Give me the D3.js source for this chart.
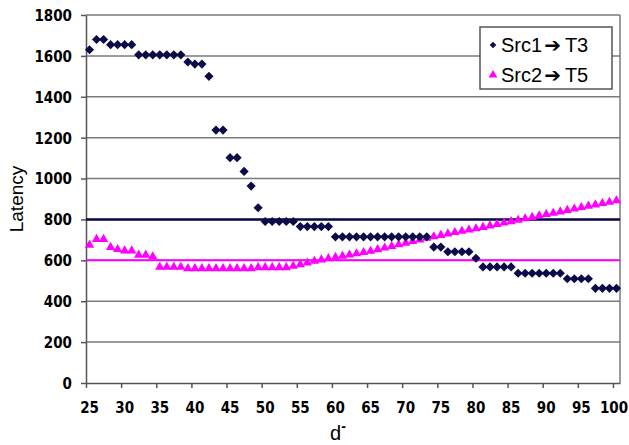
<!DOCTYPE html>
<html>
<head>
<meta charset="utf-8">
<script src="https://cdn.jsdelivr.net/npm/d3@7"></script>
<style>
   body { margin: 0; background: #fff; }
   text { font-family: "Liberation Sans", Arial, sans-serif; }
</style>
</head>
<body>
<div id="mainChart"></div>
<script>

// x categories (d-) from 25 to 100
let dValues = d3.range(25, 101)

// Src1 -> T3 latency (diamonds)
let src1T3 = [
   1630, 1680, 1680, 1655, 1655, 1655, 1655, 1605, 1605, 1605,
   1605, 1605, 1605, 1605, 1570, 1560, 1560, 1500, 1237, 1237,
   1102, 1102, 1035, 963, 857, 790, 790, 790, 790, 790,
   765, 765, 765, 765, 765, 715, 715, 715, 715, 715,
   715, 715, 715, 715, 715, 715, 715, 715, 715, 665,
   665, 642, 642, 642, 642, 610, 568, 568, 568, 568,
   568, 537, 537, 537, 537, 537, 537, 537, 510, 510,
   510, 510, 463, 463, 463, 463
]

// Src2 -> T5 latency (triangles)
let src2T5 = [
   675, 703, 703, 664, 654, 647, 647, 626, 626, 618,
   567, 567, 567, 567, 560, 560, 560, 560, 560, 560,
   560, 560, 560, 560, 565, 565, 565, 565, 565, 572,
   580, 588, 596, 603, 609, 615, 621, 627, 633, 639,
   645, 653, 661, 669, 677, 685, 693, 701, 709, 716,
   723, 730, 737, 743, 749, 755, 762, 769, 776, 783,
   790, 797, 804, 811, 818, 825, 831, 838, 845, 852,
   859, 866, 872, 879, 885, 892
]

// horizontal reference lines
let thresholds = [
   { value: 800, color: "#0b0b4a", width: 2.6 },
   { value: 600, color: "#ff00ff", width: 2 }
]

let yTicks = d3.range(0, 1801, 200)
let xTickLabels = d3.range(25, 101, 5)

let tickFont = "'DejaVu Sans Condensed', 'Liberation Sans Narrow', sans-serif"

let margin = { top: 15, right: 9, bottom: 62, left: 86 }
let width = 629 - margin.left - margin.right
let height = 445 - margin.top - margin.bottom

let svg = d3.select("#mainChart").append("svg")
   .attr("width", 629)
   .attr("height", 445)

let g = svg.append("g")
   .attr("transform", "translate(" + margin.left + "," + margin.top + ")")

// Category style axis: points sit between tick marks
let x = d3.scaleLinear()
   .domain([24.5, 100.5])
   .range([0, width])

let y = d3.scaleLinear()
   .domain([0, 1800])
   .range([height, 0])

// Gridlines
g.selectAll("line.grid").data(yTicks.filter(d => d > 0))
   .join("line")
   .attr("class", "grid")
   .attr("x1", 0)
   .attr("x2", width)
   .attr("y1", d => y(d))
   .attr("y2", d => y(d))
   .attr("stroke", "#7a7a7a")
   .attr("stroke-width", 1.5)

// Right border of plot area
g.append("line")
   .attr("x1", width).attr("x2", width)
   .attr("y1", 0).attr("y2", height)
   .attr("stroke", "#7a7a7a")
   .attr("stroke-width", 1.5)

// Y axis
let yAxis = g.append("g")
   .call(d3.axisLeft(y).tickValues(yTicks).tickFormat(d3.format("d")).tickSize(5).tickSizeOuter(0))
yAxis.select(".domain").attr("stroke", "#555").attr("stroke-width", 1.5)
yAxis.selectAll(".tick line").attr("stroke", "#555").attr("stroke-width", 1.5)
yAxis.selectAll(".tick text")
   .attr("x", -14)
   .attr("dy", "0.36em")
   .attr("fill", "#000")
   .style("font-family", tickFont)
   .style("font-weight", "bold")
   .style("font-size", "15px")

// X axis: ticks at category boundaries, labels at categories
let xAxis = g.append("g")
   .attr("transform", "translate(0," + height + ")")
   .call(d3.axisBottom(x).tickValues(xTickLabels.map(d => d - 0.5)).tickSize(5).tickSizeOuter(0).tickFormat(""))
xAxis.select(".domain").attr("stroke", "#555").attr("stroke-width", 1.5)
xAxis.selectAll(".tick line").attr("stroke", "#555").attr("stroke-width", 1.5)

// keep the last label ("100") inside the window
g.selectAll("text.xlabel").data(xTickLabels)
   .join("text")
   .attr("class", "xlabel")
   .attr("x", d => Math.min(x(d), width + margin.right - 15))
   .attr("y", height + 30)
   .attr("text-anchor", "middle")
   .style("font-family", tickFont)
   .style("font-weight", "bold")
   .style("font-size", "15px")
   .text(d => d)

// Axis titles
svg.append("text")
   .attr("transform", "translate(23,199) rotate(-90)")
   .attr("text-anchor", "middle")
   .style("font-size", "19px")
   .text("Latency")

let dTitle = svg.append("text")
   .attr("x", 338)
   .attr("y", 440)
   .attr("text-anchor", "middle")
   .style("font-size", "20px")
dTitle.append("tspan").text("d")
dTitle.append("tspan").attr("dy", -9).style("font-size", "14px").style("font-weight", "bold").text("-")

// Threshold lines
g.selectAll("line.threshold").data(thresholds)
   .join("line")
   .attr("class", "threshold")
   .attr("x1", 0)
   .attr("x2", width)
   .attr("y1", d => y(d.value))
   .attr("y2", d => y(d.value))
   .attr("stroke", d => d.color)
   .attr("stroke-width", d => d.width)

// Markers
let diamond = d3.symbol().type(d3.symbolSquare).size(42)
let triangle = d3.symbol().type(d3.symbolTriangle).size(38)

g.selectAll("path.tri").data(src2T5)
   .join("path")
   .attr("class", "tri")
   .attr("d", triangle)
   .attr("transform", (d, i) => "translate(" + x(dValues[i]) + "," + y(d) + ")")
   .attr("fill", "#ff00ff")

g.selectAll("path.dia").data(src1T3)
   .join("path")
   .attr("class", "dia")
   .attr("d", diamond)
   .attr("transform", (d, i) => "translate(" + x(dValues[i]) + "," + y(d) + ") rotate(45)")
   .attr("fill", "#0b0b4a")

// Legend
let legend = svg.append("g").attr("transform", "translate(480,27)")
legend.append("rect")
   .attr("width", 132)
   .attr("height", 62)
   .attr("fill", "#fff")
   .attr("stroke", "#555")
   .attr("stroke-width", 1.5)

let legendItems = [
   { name: ["Src1", "T3"], symbol: d3.symbol().type(d3.symbolSquare).size(22), rotate: 45, color: "#0b0b4a" },
   { name: ["Src2", "T5"], symbol: d3.symbol().type(d3.symbolTriangle).size(34), rotate: 0, color: "#ff00ff" }
]

legendItems.forEach((item, i) => {
   let row = legend.append("g").attr("transform", "translate(0," + (18 + i * 30) + ")")
   row.append("path")
      .attr("d", item.symbol)
      .attr("transform", "translate(13,0) rotate(" + item.rotate + ")")
      .attr("fill", item.color)
   let t = row.append("text")
      .attr("x", 21)
      .attr("y", 7)
      .style("font-size", "20px")
   t.append("tspan").text(item.name[0])
   t.append("tspan").attr("dx", 2).style("font-family", "'DejaVu Sans', sans-serif").style("font-size", "20px").text("\u2794")
   t.append("tspan").attr("dx", 4).text(item.name[1])
})

</script>
</body>
</html>
